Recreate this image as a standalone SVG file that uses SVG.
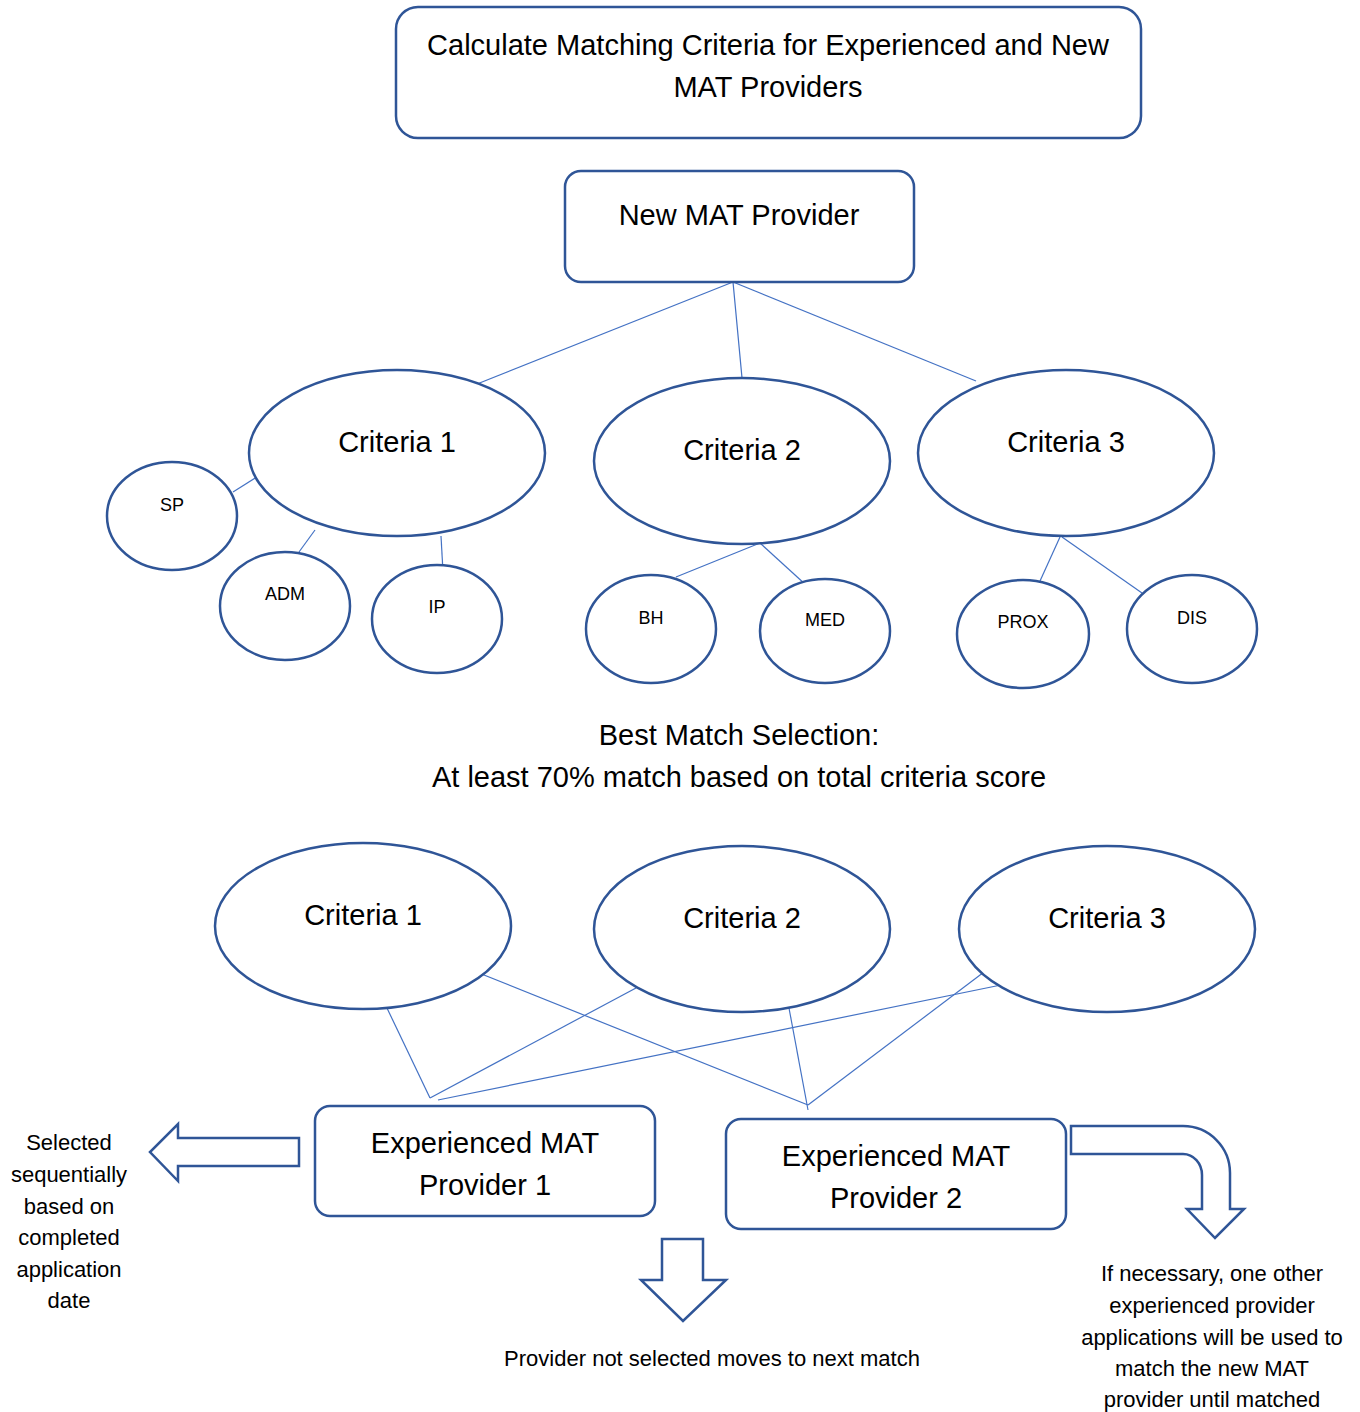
<svg xmlns="http://www.w3.org/2000/svg" width="1360" height="1412" viewBox="0 0 1360 1412">
<style>
.box{fill:#fff;stroke:#2F5597;stroke-width:2.5}
.ell{fill:#fff;stroke:#2F5597;stroke-width:2.5}
.con{stroke:#4472C4;stroke-width:1.2;fill:none}
.arr{fill:#fff;stroke:#2F5597;stroke-width:2.5;stroke-linejoin:miter}
text{font-family:"Liberation Sans",Arial,sans-serif;fill:#000;text-anchor:middle;dominant-baseline:central}
.big{font-size:29px}
.sm{font-size:18px}
.note{font-size:22px}
</style>
<rect width="1360" height="1412" fill="#fff"/>
<g id="connectors">
<line class="con" x1="733" y1="282" x2="472" y2="386"/>
<line class="con" x1="733" y1="282" x2="742" y2="378"/>
<line class="con" x1="733" y1="282" x2="976" y2="381"/>
<line class="con" x1="233" y1="492" x2="260" y2="475"/>
<line class="con" x1="299" y1="552" x2="315" y2="530"/>
<line class="con" x1="441" y1="536" x2="443" y2="572"/>
<line class="con" x1="676" y1="577" x2="760" y2="543"/>
<line class="con" x1="760" y1="543" x2="806" y2="585"/>
<line class="con" x1="1040" y1="581" x2="1060" y2="537"/>
<line class="con" x1="1062" y1="537" x2="1142" y2="593"/>
<line class="con" x1="386" y1="1006" x2="430" y2="1098"/>
<line class="con" x1="636" y1="988" x2="430" y2="1098"/>
<line class="con" x1="1001" y1="985" x2="438" y2="1100"/>
<line class="con" x1="474" y1="971" x2="808" y2="1105"/>
<line class="con" x1="789" y1="1008" x2="808" y2="1110"/>
<line class="con" x1="992" y1="966" x2="808" y2="1105"/>
</g>
<g id="title">
<rect class="box" x="396" y="7" width="745" height="131" rx="22"/>
<text class="big" x="768" y="45">Calculate Matching Criteria for Experienced and New</text>
<text class="big" x="768" y="87">MAT Providers</text>
</g>
<g id="new-provider">
<rect class="box" x="565" y="171" width="349" height="111" rx="16"/>
<text class="big" x="739" y="215">New MAT Provider</text>
</g>
<g id="top-criteria-1">
<ellipse class="ell" cx="397" cy="453" rx="148" ry="83"/>
<text class="big" x="397" y="442">Criteria 1</text>
</g>
<g id="top-criteria-2">
<ellipse class="ell" cx="742" cy="461" rx="148" ry="83"/>
<text class="big" x="742" y="450">Criteria 2</text>
</g>
<g id="top-criteria-3">
<ellipse class="ell" cx="1066" cy="453" rx="148" ry="83"/>
<text class="big" x="1066" y="442">Criteria 3</text>
</g>
<g id="sp"><ellipse class="ell" cx="172" cy="516" rx="65" ry="54"/><text class="sm" x="172" y="505">SP</text></g>
<g id="adm"><ellipse class="ell" cx="285" cy="606" rx="65" ry="54"/><text class="sm" x="285" y="594">ADM</text></g>
<g id="ip"><ellipse class="ell" cx="437" cy="619" rx="65" ry="54"/><text class="sm" x="437" y="607">IP</text></g>
<g id="bh"><ellipse class="ell" cx="651" cy="629" rx="65" ry="54"/><text class="sm" x="651" y="618">BH</text></g>
<g id="med"><ellipse class="ell" cx="825" cy="631" rx="65" ry="52"/><text class="sm" x="825" y="620">MED</text></g>
<g id="prox"><ellipse class="ell" cx="1023" cy="634" rx="66" ry="54"/><text class="sm" x="1023" y="622">PROX</text></g>
<g id="dis"><ellipse class="ell" cx="1192" cy="629" rx="65" ry="54"/><text class="sm" x="1192" y="618">DIS</text></g>
<g id="best-match">
<text class="big" x="739" y="735">Best Match Selection:</text>
<text class="big" x="739" y="777">At least 70% match based on total criteria score</text>
</g>
<g id="bottom-criteria-1">
<ellipse class="ell" cx="363" cy="926" rx="148" ry="83"/>
<text class="big" x="363" y="915">Criteria 1</text>
</g>
<g id="bottom-criteria-2">
<ellipse class="ell" cx="742" cy="929" rx="148" ry="83"/>
<text class="big" x="742" y="918">Criteria 2</text>
</g>
<g id="bottom-criteria-3">
<ellipse class="ell" cx="1107" cy="929" rx="148" ry="83"/>
<text class="big" x="1107" y="918">Criteria 3</text>
</g>
<g id="exp-provider-1">
<rect class="box" x="315" y="1106" width="340" height="110" rx="15"/>
<text class="big" x="485" y="1143">Experienced MAT</text>
<text class="big" x="485" y="1185">Provider 1</text>
</g>
<g id="exp-provider-2">
<rect class="box" x="726" y="1119" width="340" height="110" rx="15"/>
<text class="big" x="896" y="1156">Experienced MAT</text>
<text class="big" x="896" y="1198">Provider 2</text>
</g>
<g id="left-arrow">
<path class="arr" d="M299,1138 L178,1138 L178,1124 L150,1152 L178,1181 L178,1166 L299,1166 Z"/>
<text class="note" x="69" y="1142">Selected</text>
<text class="note" x="69" y="1174">sequentially</text>
<text class="note" x="69" y="1206">based on</text>
<text class="note" x="69" y="1237">completed</text>
<text class="note" x="69" y="1269">application</text>
<text class="note" x="69" y="1300">date</text>
</g>
<g id="down-arrow">
<path class="arr" d="M662,1239 L703,1239 L703,1280 L726,1280 L683,1321 L641,1280 L662,1280 Z"/>
<text class="note" x="712" y="1358">Provider not selected moves to next match</text>
</g>
<g id="bent-arrow">
<path class="arr" d="M1071,1126 L1183,1126 A47,47 0 0 1 1230,1173 L1230,1209 L1244,1209 L1215,1238 L1187,1209 L1202,1209 L1202,1175 A19,21 0 0 0 1183,1154 L1071,1154 Z"/>
<text class="note" x="1212" y="1273">If necessary, one other</text>
<text class="note" x="1212" y="1305">experienced provider</text>
<text class="note" x="1212" y="1337">applications will be used to</text>
<text class="note" x="1212" y="1368">match the new MAT</text>
<text class="note" x="1212" y="1399">provider until matched</text>
</g>
</svg>
